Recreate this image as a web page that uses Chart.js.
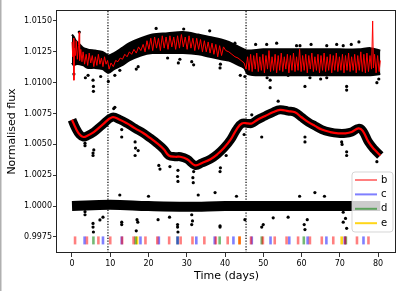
<!DOCTYPE html>
<html>
<head>
<meta charset="utf-8">
<script src="https://cdn.jsdelivr.net/npm/chart.js@4.4.1/dist/chart.umd.min.js"></script>
<style>
html, body { margin: 0; padding: 0; background: #fff; }
</style>
</head>
<body>
<canvas id="flux-chart" width="407" height="291"></canvas>
<script>
// axis ticks
const xTicks = [0, 10, 20, 30, 40, 50, 60, 70, 80];
const yTicks = [0.9975, 1.0000, 1.0025, 1.0050, 1.0075, 1.0100, 1.0125, 1.0150];

// top light curve: edges of the black band of points
const topT     = [0, 0.5, 1, 2, 3, 4, 6, 8, 9.5, 11, 13, 15, 18, 21, 25, 29, 33, 36, 39, 41, 43, 45, 46, 50, 55, 60, 65, 70, 75, 78, 80.6];
const topUpper = [1.0139, 1.0137, 1.0134, 1.0131, 1.0128, 1.0127, 1.0126, 1.0125, 1.0122, 1.0124, 1.0128, 1.0132, 1.0136, 1.0139, 1.0140, 1.0141, 1.0139, 1.0137, 1.0135, 1.0133, 1.0130, 1.0127, 1.0126, 1.0127, 1.0127, 1.0127, 1.0127, 1.0127, 1.0127, 1.0128, 1.0126];
const topLower = [1.0116, 1.0114, 1.0115, 1.0115, 1.0114, 1.0112, 1.0112, 1.0111, 1.0108, 1.0111, 1.0114, 1.0118, 1.0122, 1.0124, 1.0124, 1.0124, 1.0123, 1.0121, 1.0119, 1.0118, 1.0115, 1.0112, 1.0107, 1.0106, 1.0106, 1.0106, 1.0106, 1.0106, 1.0106, 1.0106, 1.0107];

// top model (red, jagged)
const topModel = [
  [0.0,1.0133],[0.2,1.0121],[0.4,1.0136],[0.5,1.0102],[0.6,1.0128],[0.9,1.0122],[1.1,1.0134],[1.4,1.0119],[1.7,1.0130],[1.9,1.0141],[2.0,1.0118],[2.3,1.0127],[2.6,1.0117],
  [2.9,1.0125],[3.3,1.0115],[3.7,1.0123],[4.1,1.0114],[4.5,1.0124],[4.9,1.0116],[5.3,1.0122],[5.7,1.0113],[6.1,1.0121],[6.5,1.0114],[6.9,1.0123],[7.3,1.0115],[7.7,1.0120],[8.1,1.0113],[8.5,1.0121],[8.9,1.0115],[9.3,1.0118],[9.7,1.0111],
  [10.2,1.0116],[10.8,1.0113],[11.4,1.0118],[12.0,1.0117],[12.6,1.0120],[13.2,1.0119],[13.8,1.0123],[14.4,1.0121],[15.0,1.0125],[15.6,1.0123],[16.2,1.0127],[16.8,1.0124],[17.4,1.0129],[18.0,1.0126],[18.6,1.0131],
  [19.1,1.0125],[19.6,1.0134],[20.1,1.0127],[20.6,1.0136],[21.1,1.0126],[21.6,1.0137],[22.1,1.0128],[22.6,1.0136],[23.1,1.0126],[23.6,1.0138],[24.1,1.0128],[24.6,1.0137],[25.1,1.0127],[25.6,1.0138],[26.1,1.0129],[26.6,1.0137],[27.1,1.0127],[27.6,1.0138],[28.1,1.0128],[28.6,1.0139],[29.1,1.0129],[29.6,1.0137],[30.1,1.0127],[30.6,1.0138],[31.1,1.0128],[31.6,1.0136],[32.1,1.0126],[32.6,1.0136],[33.1,1.0127],[33.6,1.0135],[34.1,1.0125],[34.6,1.0134],[35.1,1.0125],[35.6,1.0133],[36.1,1.0124],[36.6,1.0132],[37.1,1.0123],[37.6,1.0131],[38.1,1.0121],[38.6,1.0130],[39.1,1.0122],[39.6,1.0129],
  [40.2,1.0126],[41.0,1.0125],[41.8,1.0123],[42.6,1.0121],[43.4,1.0120],[44.2,1.0118],[45.0,1.0116],
  [45.5,1.0111],[45.9,1.0121],[46.3,1.0110],[46.7,1.0123],[47.1,1.0109],[47.5,1.0122],[47.9,1.0111],[48.3,1.0124],[48.7,1.0109],[49.1,1.0121],[49.5,1.0110],[49.9,1.0123],[50.3,1.0108],[50.7,1.0122],[51.1,1.0111],[51.5,1.0126],[51.9,1.0109],[52.3,1.0121],[52.7,1.0110],[53.1,1.0123],[53.5,1.0108],[53.9,1.0122],[54.3,1.0110],[54.7,1.0124],[55.1,1.0109],[55.5,1.0121],[55.9,1.0111],[56.3,1.0123],[56.7,1.0108],[57.1,1.0122],[57.5,1.0110],[57.9,1.0124],[58.3,1.0109],[58.7,1.0121],[59.1,1.0110],[59.5,1.0127],[59.9,1.0109],[60.3,1.0122],[60.7,1.0110],[61.1,1.0123],[61.5,1.0108],[61.9,1.0122],[62.3,1.0111],[62.7,1.0124],[63.1,1.0109],[63.5,1.0121],[63.9,1.0110],[64.3,1.0123],[64.7,1.0108],[65.1,1.0122],[65.5,1.0110],[65.9,1.0124],[66.3,1.0109],[66.7,1.0121],[67.1,1.0110],[67.5,1.0123],[67.9,1.0108],[68.3,1.0122],[68.7,1.0110],[69.1,1.0124],[69.5,1.0109],[69.9,1.0121],[70.3,1.0110],[70.7,1.0123],[71.1,1.0108],[71.5,1.0122],[71.9,1.0110],[72.3,1.0124],[72.7,1.0109],[73.1,1.0121],[73.5,1.0110],[73.9,1.0123],[74.3,1.0108],[74.7,1.0122],[75.1,1.0110],[75.5,1.0125],[75.9,1.0109],[76.3,1.0123],[76.7,1.0108],[77.1,1.0124],[77.5,1.0109],[77.9,1.0122],[78.3,1.0111],[78.6,1.0150],[78.8,1.0112],[79.1,1.0123],[79.5,1.0108],[79.9,1.0122],[80.3,1.0109],[80.6,1.0118]
];

// middle light curve (data band and smooth model share the trend)
const midT = [0, 1, 2, 3, 4, 5.7, 8, 10.5, 12.5, 14.4, 16.5, 18.7, 20.5, 22.2, 24, 25.3, 27, 28.3, 30.1, 32.2, 34, 36.2, 38, 39.7, 41.5, 43, 44.4, 46, 47, 48.5, 50.5, 52.5, 54.4, 56.5, 58.3, 60, 61.8, 63.5, 65.3, 67.5, 69.6, 71.5, 73.1, 74.9, 76, 77.5, 79, 80.6];
const midY = [1.0070, 1.0063, 1.0058, 1.0056, 1.0057, 1.0060, 1.0066, 1.0072, 1.0070, 1.0067, 1.0063, 1.0059, 1.0055, 1.0051, 1.0046, 1.0041, 1.0040, 1.0040, 1.0038, 1.0033, 1.0035, 1.0038, 1.0042, 1.0047, 1.0054, 1.0062, 1.0067, 1.0067, 1.0067, 1.0070, 1.0073, 1.0076, 1.0078, 1.0077, 1.0076, 1.0072, 1.0068, 1.0065, 1.0062, 1.0060, 1.0059, 1.0059, 1.0060, 1.0063, 1.0061, 1.0052, 1.0046, 1.0041];

// bottom light curve (residuals)
const lowT = [0, 10, 20, 30, 40, 50, 60, 70, 80.6];
const lowY = [1.0000, 1.0001, 1.0000, 0.99995, 1.0000, 1.0000, 1.0000, 1.0000, 1.0000];

// stray points outside the bands
const topOut = [[0.5,1.0107],[1.9,1.0141],[3.5,1.0104],[4.2,1.0106],[5.5,1.0102],[5.6,1.0097],[5.6,1.0093],[7.5,1.0105],[9.5,1.0101],[11.2,1.0106],[12.5,1.0110],[16.8,1.0111],[17.3,1.0113],[22,1.0144],[25,1.0120],[27.8,1.0116],[28.2,1.0119],[29.2,1.01435],[31.3,1.0117],[31.8,1.01145],[36,1.0142],[38.7,1.0112],[38.8,1.0115],[42.6,1.0132],[44,1.0106],[45.2,1.0105],[48,1.0131],[50.9,1.0131],[51,1.0104],[51.8,1.0102],[51.8,1.0096],[53.5,1.0132],[56.5,1.0106],[58.7,1.0130],[59.6,1.0130],[60.9,1.0097],[62.2,1.0104],[62.5,1.0131],[65,1.0103],[66.6,1.0104],[66.6,1.0130],[69.2,1.0131],[70.9,1.0130],[71.8,1.0097],[71.8,1.0094],[73,1.0131],[75,1.0133],[79.7,1.0100],[80.2,1.0103]];
const midOut = [[3.4,1.0051],[3.4,1.0049],[5.5,1.0043],[5.5,1.0041],[5.7,1.00455],[10.9,1.0079],[11.2,1.0080],[13,1.0062],[13,1.0056],[16.5,1.0052],[16.6,1.0047],[16.5,1.0041],[17.3,1.0045],[22.7,1.0033],[23,1.0030],[25.6,1.0032],[27.7,1.0029],[27.7,1.0020],[27.6,1.0024],[31.6,1.0023],[31.7,1.0019],[31.8,1.0028],[38.7,1.0028],[38.8,1.0031],[40.3,1.0041],[45,1.0058],[47,1.0074],[49.6,1.0056],[53.9,1.0085],[60.9,1.0056],[60.9,1.0052],[70.5,1.0052],[70.6,1.0050],[71.8,1.0041],[71.8,1.0044],[79.7,1.0036]];
const lowOut = [[3.4,0.99955],[3.4,0.9993],[5.5,0.9986],[5.5,0.9983],[5.6,0.9979],[7.3,0.99888],[8.1,0.9991],[12.5,1.0009],[13,0.9987],[13,0.9985],[16.8,0.9980],[17,0.9989],[17.2,0.9987],[20,1.0008],[22.5,0.9989],[25.5,0.9991],[27.6,0.9985],[27.6,0.9983],[27.7,0.9979],[31.3,0.9993],[31.3,0.9985],[31.5,0.9988],[33,1.0009],[37.4,1.0011],[38.7,0.9984],[38.7,0.9983],[43,1.0008],[45.2,0.9989],[49.6,0.9983],[50,0.9985],[52.6,0.99905],[56.5,0.9991],[59.5,1.0008],[60.7,0.9985],[60.9,0.9981],[61.5,0.9989],[63.5,1.0011],[66,1.0008],[70.9,0.9995],[70.9,0.9987],[71.5,0.9990],[71.8,0.9982]];

// transit times per planet
const planets = ['b', 'c', 'd', 'e'];
const planetColors = ['rgba(255,0,0,0.5)', 'rgba(0,0,255,0.5)', 'rgba(0,128,0,0.55)', 'rgba(255,210,0,0.9)'];
const transitsB = [0.8, 3.9, 6.9, 10.0, 13.1, 16.1, 19.2, 22.3, 25.4, 28.4, 31.5, 34.6, 37.6, 40.7, 43.8, 46.8, 49.9, 53.0, 56.1, 59.1, 62.2, 65.3, 68.3, 71.4, 74.5, 77.5];
const transitsC = [3.3, 8.1, 13.0, 17.9, 22.7, 27.6, 32.5, 37.3, 42.2, 47.0, 51.9, 56.8, 61.6, 66.5, 71.3, 76.2];
const transitsD = [5.6, 16.6, 27.6, 38.6, 49.6, 60.6, 71.6];
const transitsE = [17.0, 43.8, 70.5];
const markerLevel = 0.99722;

// dotted separators
const dividers = [9.4, 45.5];

const xMin = -3.92, xMax = 84.7, yMin = 0.9962, yMax = 1.01589;

const pts = (ts, ys) => ts.map((t, i) => ({x: t, y: ys[i]}));
const pairs = arr => arr.map(p => ({x: p[0], y: p[1]}));

const datasets = [];
[transitsB, transitsC, transitsD, transitsE].forEach((ts, i) => {
    datasets.push({
        label: planets[i],
        data: ts.map(t => ({x: t, y: markerLevel})),
        showLine: false,
        pointStyle: 'line',
        rotation: 90,
        pointRadius: 4,
        pointBorderWidth: 2.6,
        pointBorderColor: planetColors[i],
        order: 0
    });
});
datasets.push({
    data: pairs(topModel), borderColor: '#ff0000', borderWidth: 1, pointRadius: 0, tension: 0, order: 1
});
datasets.push({
    data: pts(midT, midY), borderColor: '#ff0000', borderWidth: 2.2, pointRadius: 0, tension: 0.4, order: 1
});
dividers.forEach(d => {
    datasets.push({
        data: [{x: d, y: yMin}, {x: d, y: yMax}],
        borderColor: '#000', borderWidth: 1.2, borderDash: [1.2, 1.6], pointRadius: 0, order: 2
    });
});
[topOut, midOut, lowOut].forEach(arr => {
    datasets.push({
        data: pairs(arr), showLine: false, pointRadius: 1.6, pointBorderWidth: 0,
        pointBackgroundColor: '#000', order: 3
    });
});
datasets.push({
    data: pts(midT, midY), borderColor: '#000', borderWidth: 9, pointRadius: 0, tension: 0.4, order: 4
});
datasets.push({
    data: pts(lowT, lowY), borderColor: '#000', borderWidth: 10, pointRadius: 0, tension: 0.4, order: 4
});
// top band: filled between upper and lower edges
datasets.push({
    data: pts(topT, topUpper), borderColor: '#000', backgroundColor: '#000', borderWidth: 2,
    pointRadius: 0, tension: 0.3, fill: '+1', order: 4
});
datasets.push({
    data: pts(topT, topLower), borderColor: '#000', borderWidth: 2, pointRadius: 0, tension: 0.3, order: 4
});

const legendBox = {
    id: 'legendBox',
    afterDatasetsDraw(chart) {
        const {ctx, chartArea} = chart;
        const x = chartArea.right - 44, y = chartArea.bottom - 81, w = 41, h = 60;
        ctx.save();
        ctx.beginPath();
        ctx.roundRect(x, y, w, h, 3);
        ctx.fillStyle = 'rgba(255,255,255,0.8)';
        ctx.fill();
        ctx.strokeStyle = 'rgba(204,204,204,0.8)';
        ctx.lineWidth = 1;
        ctx.stroke();
        ctx.font = '10px "DejaVu Sans"';
        ctx.textBaseline = 'middle';
        planets.forEach((p, i) => {
            const ly = y + 8 + i * 14.4;
            ctx.strokeStyle = planetColors[i];
            ctx.lineWidth = 2;
            ctx.beginPath();
            ctx.moveTo(x + 3, ly);
            ctx.lineTo(x + 25, ly);
            ctx.stroke();
            ctx.fillStyle = '#000';
            ctx.fillText(p, x + 29, ly);
        });
        ctx.restore();
    },
    afterDraw(chart) {
        const {ctx, chartArea} = chart;
        ctx.save();
        ctx.strokeStyle = '#222';
        ctx.lineWidth = 1;
        ctx.strokeRect(Math.round(chartArea.left) - 0.5, Math.round(chartArea.top) + 0.5,
            Math.round(chartArea.right - chartArea.left), Math.round(chartArea.bottom - chartArea.top) - 1);
        ctx.fillStyle = '#b0b0b0';
        ctx.fillRect(0, 0, 1.5, chart.height);
        ctx.restore();
    }
};

new Chart(document.getElementById('flux-chart'), {
    type: 'line',
    data: {datasets: datasets},
    plugins: [legendBox],
    options: {
        responsive: false,
        animation: false,
        devicePixelRatio: 1,
        layout: {padding: {top: 10, right: 11, left: 0, bottom: 0}},
        plugins: {legend: {display: false}, tooltip: {enabled: false}},
        scales: {
            x: {
                type: 'linear', min: xMin, max: xMax,
                afterBuildTicks: s => { s.ticks = xTicks.map(v => ({value: v})); },
                afterFit: s => { s.height = 38; },
                grid: {drawOnChartArea: false, tickLength: 4, color: '#000', lineWidth: 0.8},
                border: {display: false},
                ticks: {color: '#000', padding: 2, font: {family: 'DejaVu Sans', size: 8}, callback: v => String(v)},
                title: {display: true, text: 'Time (days)', color: '#000', padding: {top: 0, bottom: 8}, font: {family: 'DejaVu Sans', size: 11}}
            },
            y: {
                min: yMin, max: yMax,
                afterBuildTicks: s => { s.ticks = yTicks.map(v => ({value: v})); },
                afterFit: s => { s.width = 57; },
                grid: {drawOnChartArea: false, tickLength: 4, color: '#000', lineWidth: 0.8},
                border: {display: false},
                ticks: {color: '#000', padding: 1, font: {family: 'DejaVu Sans', size: 8}, callback: v => v.toFixed(4)},
                title: {display: true, text: 'Normalised flux', color: '#000', padding: {top: 6, bottom: 0}, font: {family: 'DejaVu Sans', size: 11}}
            }
        }
    }
});
</script>
</body>
</html>
